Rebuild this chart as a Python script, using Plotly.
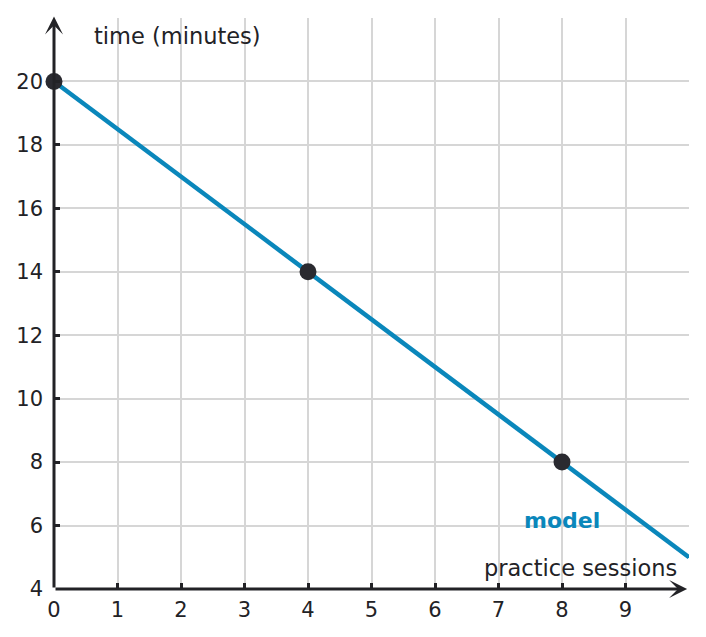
import plotly.graph_objects as go

# model line and observed points
model_x = [0, 10]
model_y = [20, 5]
point_x = [0, 4, 8]
point_y = [20, 14, 8]

x_ticks = [0, 1, 2, 3, 4, 5, 6, 7, 8, 9]
y_ticks = [4, 6, 8, 10, 12, 14, 16, 18, 20]

BLUE = '#0a87bb'
DARK = '#222226'

fig = go.Figure()
fig.add_trace(go.Scatter(x=model_x, y=model_y, mode='lines',
                         line=dict(color=BLUE, width=4.5), hoverinfo='skip'))
fig.add_trace(go.Scatter(x=point_x, y=point_y, mode='markers',
                         marker=dict(color='#2a2a30', size=17), cliponaxis=False))

# axis arrows
fig.add_annotation(x=9.97, y=4, ax=0, ay=4, xref='x', yref='y', axref='x', ayref='y',
                   showarrow=True, arrowhead=3, arrowsize=1, arrowwidth=3, arrowcolor=DARK, text='')
fig.add_annotation(x=0, y=22.05, ax=0, ay=4, xref='x', yref='y', axref='x', ayref='y',
                   showarrow=True, arrowhead=3, arrowsize=1, arrowwidth=3, arrowcolor=DARK, text='')

fig.add_annotation(x=0.6, y=21.42, text='time (minutes)', showarrow=False,
                   xanchor='left', yanchor='middle', font=dict(size=22.5, color=DARK))
fig.add_annotation(x=9.85, y=4.66, text='practice sessions', showarrow=False,
                   xanchor='right', yanchor='middle', font=dict(size=22.5, color=DARK))
fig.add_annotation(x=8.0, y=6.17, text='<b>model</b>', showarrow=False,
                   xanchor='center', yanchor='middle', font=dict(size=22, color=BLUE))

fig.update_layout(
    width=706, height=637,
    margin=dict(l=46, r=25, t=10, b=56),
    plot_bgcolor='white', paper_bgcolor='white',
    showlegend=False,
    font=dict(family='DejaVu Sans', size=21, color=DARK),
    xaxis=dict(range=[0, 10], tickvals=x_ticks, showgrid=True, gridcolor='#d6d6d6', gridwidth=2,
               zeroline=False, showline=False, ticks='inside', ticklen=6, tickwidth=3,
               tickcolor=DARK, fixedrange=True, automargin=False, ticklabelstandoff=6),
    yaxis=dict(range=[4, 22], tickvals=y_ticks, showgrid=True, gridcolor='#d6d6d6', gridwidth=2,
               zeroline=False, showline=False, ticks='inside', ticklen=6, tickwidth=3,
               tickcolor=DARK, fixedrange=True, automargin=False, ticklabelstandoff=10),
)

fig.write_html('out.html')
